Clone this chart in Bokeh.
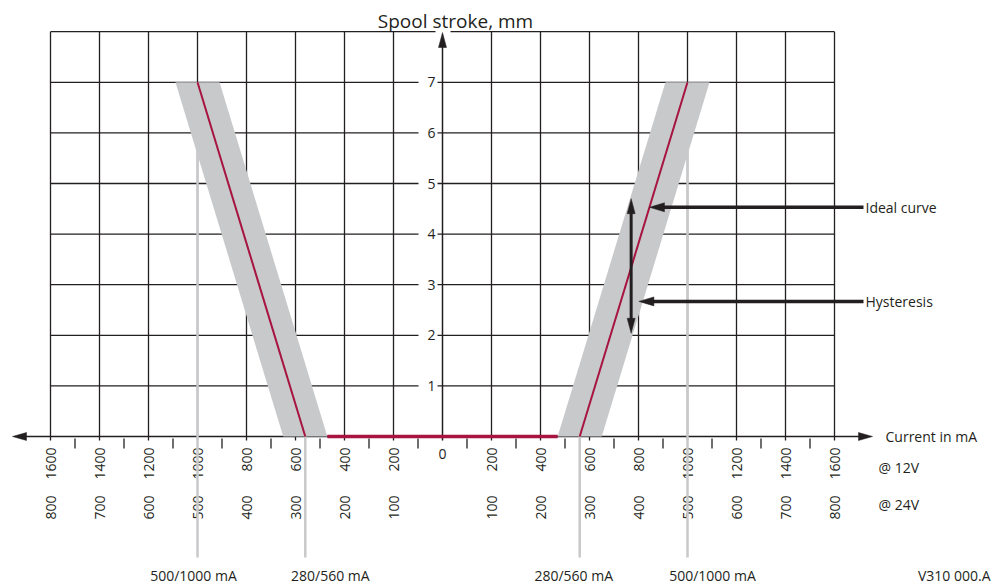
import math
from bokeh.plotting import figure
from bokeh.models import Range1d
from bokeh.core.properties import value
from bokeh.embed import file_html
from bokeh.resources import INLINE

# ---------------- data ----------------
stroke_ticks = [1, 2, 3, 4, 5, 6, 7]          # mm
stroke_top = 8                                # top grid line, mm
current_12v = [200, 400, 600, 800, 1000, 1200, 1400, 1600]   # mA @12V
current_24v = [100, 200, 300, 400, 500, 600, 700, 800]       # mA @24V
minor_currents = [100, 300, 500, 700, 900, 1100, 1300, 1500]
ideal_current = [560, 1000]                   # mA @12V
ideal_stroke = [0, 7]                         # mm
hysteresis_half = 90                          # mA (half band width)
ref_currents = [560, 1000]
ref_labels = ["280/560 mA", "500/1000 mA"]
ideal_label_stroke = 4.53
hyst_label_stroke = 2.67
hyst_arrow_current = 770
hyst_arrow_stroke = [2.04, 4.70]

# ---------------- layout ----------------
W, H = 1005, 585
OX, OY = 442, 436            # origin in canvas px
PX_PER_MA = 49 / 200
PX_PER_MM = 50.6


def mx(px):
    return px / PX_PER_MA


def my(px):
    return px / PX_PER_MM


INK = "#231f20"
RED = "#a6143f"
GREY = "#c8c9cb"
FONT = value("Open Sans")
FS = "14px"

p = figure(width=W, height=H, output_backend="svg", toolbar_location=None,
           x_range=Range1d(-mx(OX), mx(W - OX)),
           y_range=Range1d(-my(H - OY), my(OY)),
           x_axis_type=None, y_axis_type=None, min_border=0)
p.outline_line_color = None
p.background_fill_color = "white"
p.border_fill_color = "white"

xmax = current_12v[-1]

# vertical grid lines (extend a little below axis as major ticks)
vx = [s * c for c in current_12v for s in (-1, 1)]
p.segment(x0=vx, y0=[-my(4)] * len(vx), x1=vx, y1=[stroke_top] * len(vx),
          line_color=INK, line_width=1.3)

# horizontal grid lines with gap for labels on the left of the axis
hy = stroke_ticks
p.segment(x0=[-xmax] * len(hy), y0=hy, x1=[-mx(24)] * len(hy), y1=hy,
          line_color=INK, line_width=1.3)
p.segment(x0=[-mx(5)] * len(hy), y0=hy, x1=[xmax] * len(hy), y1=hy,
          line_color=INK, line_width=1.3)
# top border with gap around the axis arrow
p.segment(x0=[-xmax, mx(8)], y0=[stroke_top] * 2, x1=[-mx(7), xmax], y1=[stroke_top] * 2,
          line_color=INK, line_width=1.3)

# minor ticks on current axis
mxs = [s * c for c in minor_currents for s in (-1, 1)]
p.segment(x0=mxs, y0=[-my(2)] * len(mxs), x1=mxs, y1=[-my(12)] * len(mxs),
          line_color=INK, line_width=1.3)


def tri(tip_x, tip_y, direction, length_px, width_px):
    if direction == "left":
        return ([tip_x, tip_x + mx(length_px), tip_x + mx(length_px)],
                [tip_y, tip_y + my(width_px / 2), tip_y - my(width_px / 2)])
    if direction == "right":
        return ([tip_x, tip_x - mx(length_px), tip_x - mx(length_px)],
                [tip_y, tip_y + my(width_px / 2), tip_y - my(width_px / 2)])
    if direction == "up":
        return ([tip_x, tip_x - mx(width_px / 2), tip_x + mx(width_px / 2)],
                [tip_y, tip_y - my(length_px), tip_y - my(length_px)])
    return ([tip_x, tip_x - mx(width_px / 2), tip_x + mx(width_px / 2)],
            [tip_y, tip_y + my(length_px), tip_y + my(length_px)])


# current axis with arrows
ax_tip = mx(430)
p.segment(x0=[-ax_tip + mx(10)], y0=[0], x1=[ax_tip - mx(10)], y1=[0], line_color=INK, line_width=1.5)
for d, tx in (("left", -ax_tip), ("right", ax_tip)):
    xs, ys = tri(tx, 0, d, 14, 8)
    p.patch(xs, ys, fill_color=INK, line_color=INK, line_width=0.5)

# stroke axis with arrow
ay_tip = my(404)
p.segment(x0=[0], y0=[-my(4)], x1=[0], y1=[ay_tip - my(10)], line_color=INK, line_width=1.5)
xs, ys = tri(0, ay_tip, "up", 15, 8)
p.patch(xs, ys, fill_color=INK, line_color=INK, line_width=0.5)

# stroke tick labels
p.text(x=[-mx(11)] * len(stroke_ticks), y=stroke_ticks, text=[str(v) for v in stroke_ticks],
       text_font=FONT, text_font_size=FS, text_align="center", text_baseline="middle",
       text_color=INK)

# current tick labels @12V and @24V (rotated)
lx12 = [s * c for c in current_12v for s in (-1, 1)]
lt12 = [str(c) for c in current_12v for s in (-1, 1)]
p.text(x=lx12, y=[-my(11)] * len(lx12), text=lt12, angle=math.pi / 2,
       text_font=FONT, text_font_size=FS, text_align="right", text_baseline="middle",
       text_color=INK)
lx24 = [s * 2 * c for c in current_24v for s in (-1, 1)]
lt24 = [str(c) for c in current_24v for s in (-1, 1)]
p.text(x=lx24, y=[-my(59)] * len(lx24), text=lt24, angle=math.pi / 2,
       text_font=FONT, text_font_size=FS, text_align="right", text_baseline="middle",
       text_color=INK)
p.text(x=[0], y=[-my(17)], text=["0"], text_font=FONT, text_font_size=FS,
       text_align="center", text_baseline="middle", text_color=INK)

p.text(x=[mx(436)] * 2, y=[-my(31), -my(68)], text=["@ 12V", "@ 24V"],
       text_font=FONT, text_font_size=FS, text_align="left", text_baseline="middle",
       text_color=INK)
p.text(x=[mx(443)], y=[0], text=["Current in mA"], text_font=FONT, text_font_size=FS,
       text_align="left", text_baseline="middle", text_color=INK)
p.text(x=[mx(13)], y=[my(416)], text=["Spool stroke, mm"], text_font=FONT,
       text_font_size="19px", text_align="center", text_baseline="alphabetic", text_color=INK)

# grey reference lines
ref_top = {ref_currents[0]: 0, ref_currents[1]: ideal_stroke[1]}
for c in ref_currents:
    for s in (-1, 1):
        p.segment(x0=[s * c], y0=[ref_top[c]], x1=[s * c], y1=[-my(121)],
                  line_color=GREY, line_width=2.5)

# hysteresis band
for s in (-1, 1):
    bx = [s * (ideal_current[0] - hysteresis_half), s * (ideal_current[0] + hysteresis_half),
          s * (ideal_current[1] + hysteresis_half), s * (ideal_current[1] - hysteresis_half)]
    by = [ideal_stroke[0], ideal_stroke[0], ideal_stroke[1], ideal_stroke[1]]
    p.patch(bx, by, fill_color=GREY, line_color=None)

# ideal curve
flat = ideal_current[0] - hysteresis_half
p.line([-flat, flat], [0, 0], line_color=RED, line_width=3.5)
p.line([-c for c in ideal_current], ideal_stroke, line_color=RED, line_width=2)
p.line(ideal_current, ideal_stroke, line_color=RED, line_width=2)

# reference labels at bottom
ref_offsets = {(-1, 560): 25, (-1, 1000): -4, (1, 560): -6, (1, 1000): 25}
for c, lab in zip(ref_currents, ref_labels):
    for s in (-1, 1):
        p.text(x=[s * c + mx(ref_offsets[(s, c)])], y=[-my(139)], text=[lab], text_font=FONT,
               text_font_size=FS, text_align="center", text_baseline="alphabetic",
               text_color=INK)
p.text(x=[mx(548)], y=[-my(139)], text=["V310 000.A"], text_font=FONT, text_font_size=FS,
       text_align="right", text_baseline="alphabetic", text_color=INK)

# annotation arrows
def ideal_x(stroke):
    return ideal_current[0] + (ideal_current[1] - ideal_current[0]) * stroke / ideal_stroke[1]


tail = mx(421)
tip_ideal = ideal_x(ideal_label_stroke)
tip_hyst = ideal_x(hyst_label_stroke) + hysteresis_half - mx(4)
for tip, yy, lab in ((tip_ideal, ideal_label_stroke, "Ideal curve"),
                     (tip_hyst, hyst_label_stroke, "Hysteresis")):
    p.segment(x0=[tip + mx(12)], y0=[yy], x1=[tail], y1=[yy], line_color=INK, line_width=3.5)
    xs, ys = tri(tip, yy, "left", 15, 9)
    p.patch(xs, ys, fill_color=INK, line_color=INK, line_width=0.5)
    p.text(x=[tail + mx(2)], y=[yy], text=[lab], text_font=FONT, text_font_size=FS,
           text_align="left", text_baseline="middle", text_color=INK)

p.segment(x0=[hyst_arrow_current], y0=[hyst_arrow_stroke[0] + my(12)], x1=[hyst_arrow_current],
          y1=[hyst_arrow_stroke[1] - my(12)], line_color=INK, line_width=3)
for d, yy in (("down", hyst_arrow_stroke[0]), ("up", hyst_arrow_stroke[1])):
    xs, ys = tri(hyst_arrow_current, yy, d, 15, 8)
    p.patch(xs, ys, fill_color=INK, line_color=INK, line_width=0.5)

open("out.html", "w").write(file_html(p, INLINE))
